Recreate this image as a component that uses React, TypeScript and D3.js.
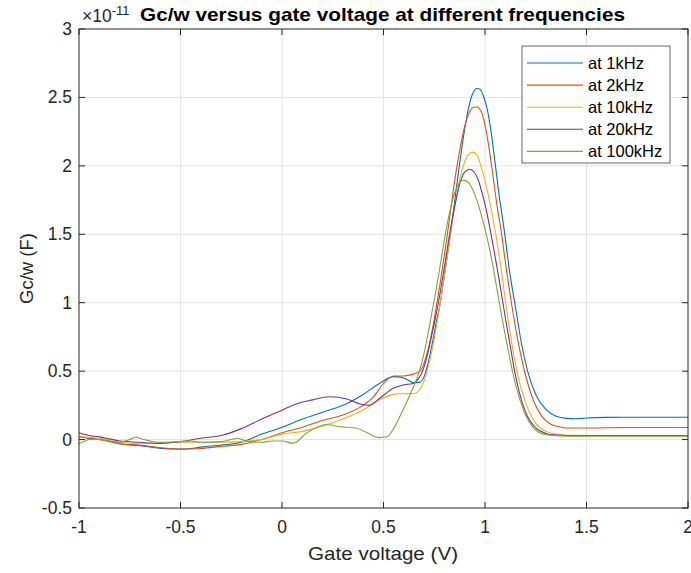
import React from "react";
import * as d3 from "d3";

const W = 691;
const H = 573;

const xTicks = [-1, -0.5, 0, 0.5, 1, 1.5, 2];
const yTicks = [-0.5, 0, 0.5, 1, 1.5, 2, 2.5, 3];
const seriesNames = ["at 1kHz", "at 2kHz", "at 10kHz", "at 20kHz", "at 100kHz"];
const seriesColors = ["#0072BD", "#D95319", "#EDB120", "#7E2F8E", "#77AC30"];

// [gate voltage (V), Gc/w (x1e-11 F)]
const s1k: [number, number][] = [
  [-1, 0.02], [-0.95, 0.01], [-0.9, 0.0], [-0.85, -0.01], [-0.8, -0.03], [-0.7, -0.045], [-0.6, -0.064],
  [-0.5, -0.069], [-0.45, -0.065], [-0.4, -0.055], [-0.3, -0.04], [-0.2, -0.02], [-0.1, 0.04], [0, 0.09],
  [0.1, 0.15], [0.2, 0.2], [0.3, 0.25], [0.4, 0.33], [0.48, 0.41], [0.55, 0.46], [0.6, 0.45], [0.65, 0.415],
  [0.68, 0.42], [0.7, 0.46], [0.72, 0.56], [0.74, 0.7], [0.76, 0.86], [0.78, 1.0], [0.8, 1.2], [0.82, 1.4],
  [0.84, 1.62], [0.86, 1.85], [0.88, 2.07], [0.9, 2.27], [0.92, 2.43], [0.94, 2.53], [0.96, 2.565],
  [0.975, 2.56], [0.99, 2.52], [1.01, 2.42], [1.03, 2.25], [1.05, 2.02], [1.07, 1.78], [1.09, 1.58],
  [1.1, 1.47], [1.12, 1.24], [1.15, 0.97], [1.18, 0.7], [1.21, 0.5], [1.25, 0.33], [1.3, 0.22], [1.35, 0.17],
  [1.4, 0.155], [1.45, 0.152], [1.5, 0.158], [1.6, 0.162], [1.8, 0.163], [2.0, 0.163],
];
const s2k: [number, number][] = [
  [-1, 0.02], [-0.9, 0.0], [-0.8, -0.03], [-0.7, -0.04], [-0.6, -0.06], [-0.5, -0.07], [-0.4, -0.065],
  [-0.3, -0.05], [-0.2, -0.035], [-0.1, 0.0], [0, 0.05], [0.1, 0.09], [0.2, 0.14], [0.3, 0.18], [0.4, 0.25],
  [0.45, 0.31], [0.5, 0.41], [0.55, 0.465], [0.6, 0.465], [0.65, 0.48], [0.68, 0.5], [0.7, 0.56], [0.72, 0.66],
  [0.74, 0.8], [0.76, 0.97], [0.78, 1.15], [0.8, 1.35], [0.82, 1.56], [0.84, 1.78], [0.86, 1.98], [0.88, 2.15],
  [0.9, 2.29], [0.92, 2.38], [0.94, 2.425], [0.96, 2.43], [0.98, 2.4], [1.0, 2.3], [1.02, 2.13], [1.04, 1.92],
  [1.06, 1.7], [1.08, 1.52], [1.1, 1.3], [1.13, 1.0], [1.16, 0.74], [1.2, 0.47], [1.24, 0.28], [1.28, 0.17],
  [1.32, 0.115], [1.36, 0.095], [1.4, 0.085], [1.5, 0.085], [1.7, 0.088], [2.0, 0.088],
];
const s10k: [number, number][] = [
  [-1, 0.02], [-0.9, 0.01], [-0.8, -0.02], [-0.7, -0.03], [-0.6, -0.025], [-0.5, -0.02], [-0.4, -0.02],
  [-0.3, -0.02], [-0.2, -0.015], [-0.1, 0.0], [0, 0.04], [0.1, 0.06], [0.2, 0.1], [0.3, 0.15], [0.4, 0.216],
  [0.48, 0.29], [0.55, 0.33], [0.6, 0.335], [0.65, 0.337], [0.68, 0.37], [0.7, 0.43], [0.72, 0.53], [0.74, 0.66],
  [0.76, 0.82], [0.78, 1.0], [0.8, 1.2], [0.82, 1.4], [0.84, 1.6], [0.86, 1.78], [0.88, 1.93], [0.9, 2.03],
  [0.92, 2.085], [0.94, 2.1], [0.96, 2.08], [0.98, 2.0], [1.0, 1.89], [1.02, 1.76], [1.04, 1.61], [1.06, 1.44],
  [1.08, 1.24], [1.1, 1.02], [1.13, 0.72], [1.16, 0.48], [1.2, 0.27], [1.25, 0.12], [1.3, 0.06], [1.35, 0.04],
  [1.4, 0.032], [1.6, 0.03], [2.0, 0.03],
];
const s20k: [number, number][] = [
  [-1, 0.05], [-0.95, 0.03], [-0.9, 0.02], [-0.85, 0.005], [-0.8, -0.01], [-0.7, -0.02], [-0.6, -0.028],
  [-0.5, -0.015], [-0.4, 0.01], [-0.3, 0.03], [-0.2, 0.08], [-0.1, 0.15], [0, 0.215], [0.07, 0.26], [0.15, 0.29],
  [0.23, 0.313], [0.32, 0.297], [0.385, 0.26], [0.43, 0.25], [0.48, 0.3], [0.55, 0.377], [0.6, 0.4], [0.645, 0.41],
  [0.67, 0.44], [0.695, 0.51], [0.72, 0.64], [0.74, 0.78], [0.76, 0.92], [0.78, 1.08], [0.8, 1.26], [0.82, 1.45],
  [0.84, 1.62], [0.86, 1.77], [0.88, 1.89], [0.9, 1.955], [0.925, 1.975], [0.946, 1.955], [0.966, 1.9],
  [0.986, 1.8], [1.006, 1.68], [1.026, 1.53], [1.046, 1.37], [1.066, 1.2], [1.086, 1.02], [1.106, 0.84],
  [1.126, 0.67], [1.146, 0.5], [1.17, 0.34], [1.2, 0.2], [1.25, 0.085], [1.3, 0.045], [1.35, 0.033],
  [1.4, 0.03], [2.0, 0.03],
];
const s100k: [number, number][] = [
  [-1, -0.03], [-0.97, -0.01], [-0.95, 0.0], [-0.9, 0.0], [-0.85, -0.01], [-0.8, -0.02], [-0.75, 0.0],
  [-0.72, 0.017], [-0.68, 0.0], [-0.6, -0.02], [-0.5, -0.015], [-0.45, -0.01], [-0.4, -0.02], [-0.3, -0.015],
  [-0.25, 0.0], [-0.22, 0.01], [-0.18, -0.01], [-0.1, -0.02], [-0.05, -0.01], [0, -0.01], [0.055, -0.027],
  [0.12, 0.046], [0.22, 0.11], [0.285, 0.094], [0.37, 0.083], [0.42, 0.05], [0.48, 0.014], [0.517, 0.02],
  [0.55, 0.08], [0.58, 0.167], [0.61, 0.26], [0.645, 0.377], [0.67, 0.47], [0.695, 0.6], [0.72, 0.78],
  [0.74, 0.94], [0.76, 1.1], [0.78, 1.28], [0.8, 1.46], [0.82, 1.62], [0.84, 1.75], [0.86, 1.84], [0.88, 1.885],
  [0.895, 1.896], [0.92, 1.875], [0.94, 1.825], [0.96, 1.75], [0.98, 1.65], [1.0, 1.54], [1.02, 1.41],
  [1.04, 1.26], [1.06, 1.09], [1.08, 0.92], [1.1, 0.76], [1.12, 0.61], [1.14, 0.47], [1.17, 0.3], [1.2, 0.18],
  [1.25, 0.07], [1.3, 0.035], [1.4, 0.025], [2.0, 0.025],
];
const allSeries = [s1k, s2k, s10k, s20k, s100k];

const M = { left: 79, right: 688, top: 29, bottom: 508 };
const FONT = "'Liberation Sans', Arial, Helvetica, sans-serif";
const TXT = "#262626";

export default function App() {
  const x = d3.scaleLinear().domain([-1, 2]).range([M.left, M.right]);
  const y = d3.scaleLinear().domain([-0.5, 3]).range([M.bottom, M.top]);
  const line = d3
    .line<[number, number]>()
    .x((d) => x(d[0]))
    .y((d) => y(d[1]))
    .curve(d3.curveMonotoneX);
  const tick = 6;
  return (
    <svg
      width={W}
      height={H}
      style={{ position: "absolute", left: 0, top: 0, background: "#fff" }}
      fontFamily={FONT}
    >
      <defs>
        <clipPath id="plot">
          <rect x={M.left} y={M.top} width={M.right - M.left} height={M.bottom - M.top} />
        </clipPath>
      </defs>
      <rect x={0} y={0} width={W} height={H} fill="#fff" />
      {xTicks.slice(1, -1).map((t) => (
        <line key={"gx" + t} x1={x(t)} x2={x(t)} y1={M.top} y2={M.bottom} stroke="#e3e3e3" strokeWidth={1} />
      ))}
      {yTicks.slice(1, -1).map((t) => (
        <line key={"gy" + t} x1={M.left} x2={M.right} y1={y(t)} y2={y(t)} stroke="#e3e3e3" strokeWidth={1} />
      ))}
      <g clipPath="url(#plot)">
        {allSeries.map((s, i) => (
          <path key={i} d={line(s) || ""} fill="none" stroke={seriesColors[i]} strokeWidth={1.1} />
        ))}
      </g>
      <rect
        x={M.left}
        y={M.top}
        width={M.right - M.left}
        height={M.bottom - M.top}
        fill="none"
        stroke={TXT}
        strokeWidth={1}
      />
      {xTicks.map((t) => (
        <g key={"tx" + t}>
          <line x1={x(t)} x2={x(t)} y1={M.bottom} y2={M.bottom - tick} stroke={TXT} />
          <line x1={x(t)} x2={x(t)} y1={M.top} y2={M.top + tick} stroke={TXT} />
          <text x={x(t)} y={533} textAnchor="middle" fontSize={17.5} fill={TXT}>
            {String(t)}
          </text>
        </g>
      ))}
      {yTicks.map((t) => (
        <g key={"ty" + t}>
          <line x1={M.left} x2={M.left + tick} y1={y(t)} y2={y(t)} stroke={TXT} />
          <line x1={M.right} x2={M.right - tick} y1={y(t)} y2={y(t)} stroke={TXT} />
          <text x={72} y={y(t) + 6} textAnchor="end" fontSize={17.5} fill={TXT}>
            {String(t)}
          </text>
        </g>
      ))}
      <text x={82} y={22} fontSize={17.5} fill={TXT}>
        ×10
        <tspan dy={-7} fontSize={13}>
          -11
        </tspan>
      </text>
      <text
        x={140}
        y={21}
        fontSize={19}
        fontWeight="bold"
        fill="#000"
        textLength={485}
        lengthAdjust="spacingAndGlyphs"
      >
        Gc/w versus gate voltage at different frequencies
      </text>
      <text
        x={308}
        y={560}
        fontSize={19}
        fill={TXT}
        textLength={150}
        lengthAdjust="spacingAndGlyphs"
      >
        Gate voltage (V)
      </text>
      <text
        transform={`translate(33,${(M.top + M.bottom) / 2}) rotate(-90)`}
        textAnchor="middle"
        fontSize={18.5}
        fill={TXT}
      >
        Gc/w (F)
      </text>
      <g>
        <rect x={522} y={46} width={148} height={117} fill="#fff" stroke="#666" strokeWidth={1} />
        {seriesNames.map((n, i) => (
          <g key={n}>
            <line
              x1={527}
              x2={583}
              y1={63 + i * 22.1}
              y2={63 + i * 22.1}
              stroke={seriesColors[i]}
              strokeWidth={1.1}
            />
            <text x={588} y={63 + i * 22.1 + 6} fontSize={16.5} fill="#000">
              {n}
            </text>
          </g>
        ))}
      </g>
    </svg>
  );
}
